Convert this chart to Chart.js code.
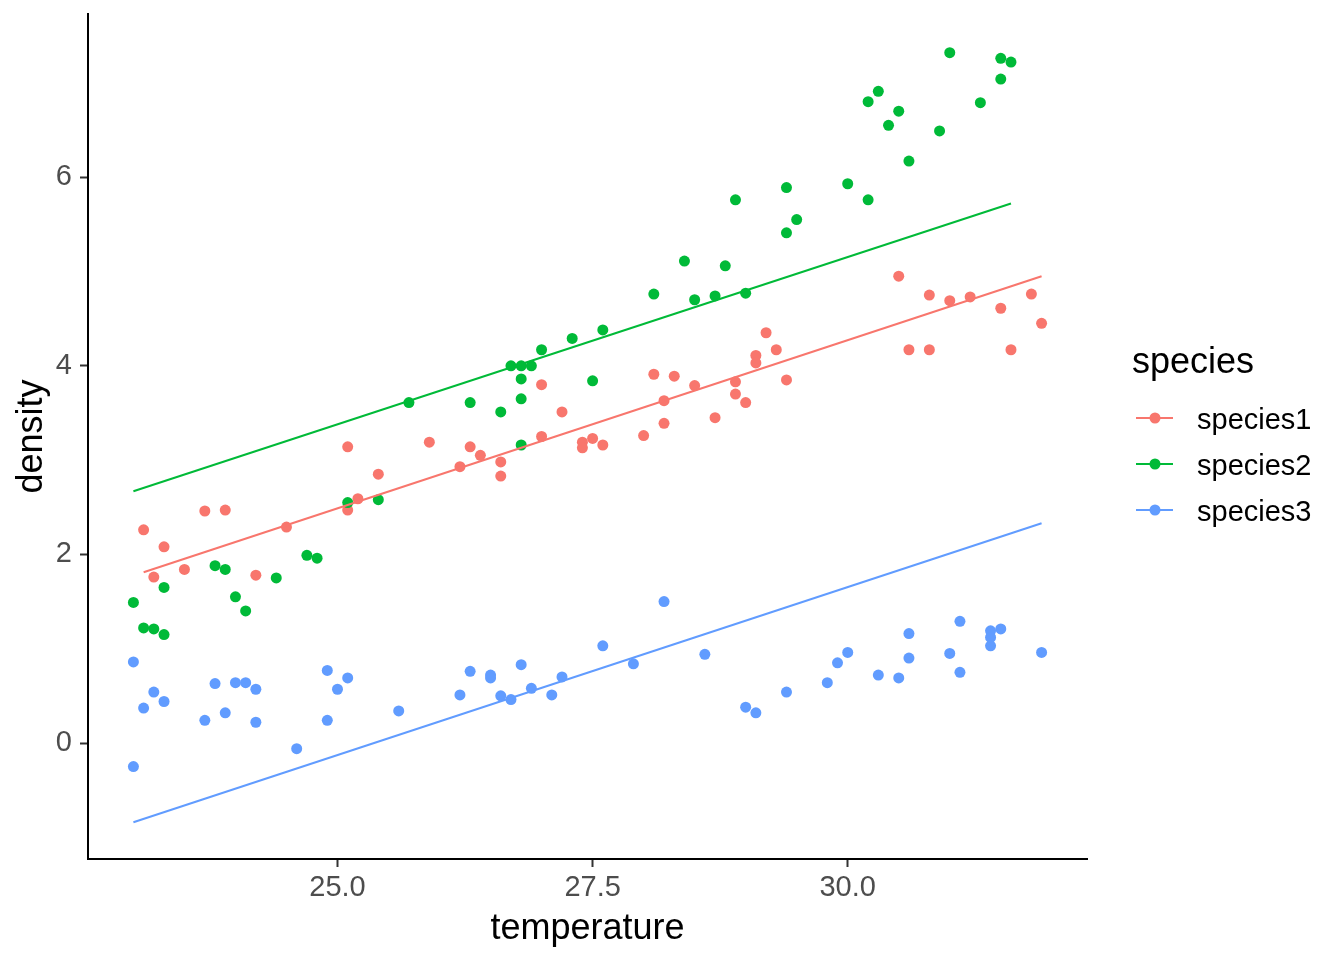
<!DOCTYPE html>
<html>
<head>
<meta charset="utf-8">
<script src="https://cdn.jsdelivr.net/npm/chart.js@4.4.1/dist/chart.umd.min.js"></script>
<style>
  html, body { margin: 0; padding: 0; background: #fff; }
  #wrap { width: 1344px; height: 960px; }
</style>
</head>
<body>
<div id="wrap"><canvas id="densityChart" width="1344" height="960"></canvas></div>
<script>
// Observed points per species (temperature, density)
const temp1 = [23.1, 23.2, 23.3, 23.5, 23.7, 23.9, 24.2, 24.5, 25.1, 25.1,
               25.2, 25.4, 25.9, 26.2, 26.3, 26.4, 26.6, 26.6, 27.0, 27.0,
               27.2, 27.4, 27.4, 27.5, 27.6, 28.0, 28.1, 28.2, 28.2, 28.3,
               28.5, 28.7, 28.9, 28.9, 29.0, 29.1, 29.1, 29.2, 29.3, 29.4,
               30.5, 30.6, 30.8, 30.8, 31.0, 31.2, 31.5, 31.6, 31.8, 31.9];
const dens1 = [2.26, 1.76, 2.08, 1.84, 2.46, 2.47, 1.78, 2.29, 2.47, 3.14,
               2.59, 2.85, 3.19, 2.93, 3.14, 3.05, 2.98, 2.83, 3.80, 3.25,
               3.51, 3.19, 3.13, 3.23, 3.16, 3.26, 3.91, 3.63, 3.39, 3.89,
               3.79, 3.45, 3.83, 3.70, 3.61, 4.11, 4.03, 4.35, 4.17, 3.85,
               4.95, 4.17, 4.75, 4.17, 4.69, 4.73, 4.61, 4.17, 4.76, 4.45];

const temp2 = [23.0, 23.1, 23.2, 23.3, 23.3, 23.8, 23.9, 24.0, 24.1, 24.4,
               24.7, 24.8, 25.1, 25.4, 25.7, 26.3, 26.6, 26.7, 26.8, 26.9,
               26.8, 26.8, 26.8, 27.0, 27.3, 27.5, 27.6, 28.1, 28.4, 28.5,
               28.7, 28.8, 28.9, 29.0, 29.4, 29.4, 29.5, 30.0, 30.2, 30.2,
               30.3, 30.4, 30.5, 30.6, 30.9, 31.0, 31.3, 31.5, 31.5, 31.6];
const dens2 = [1.49, 1.22, 1.21, 1.15, 1.65, 1.88, 1.84, 1.55, 1.40, 1.75,
               1.99, 1.96, 2.55, 2.58, 3.61, 3.61, 3.51, 4.00, 4.00, 4.00,
               3.86, 3.65, 3.16, 4.17, 4.29, 3.84, 4.38, 4.76, 5.11, 4.70,
               4.74, 5.06, 5.76, 4.77, 5.89, 5.41, 5.55, 5.93, 5.76, 6.80,
               6.91, 6.55, 6.70, 6.17, 6.49, 7.32, 6.79, 7.26, 7.04, 7.22];

const temp3 = [23.0, 23.0, 23.1, 23.2, 23.3, 23.7, 23.8, 23.9, 24.0, 24.1,
               24.2, 24.2, 24.6, 24.9, 24.9, 25.0, 25.1, 25.6, 26.2, 26.3,
               26.5, 26.5, 26.6, 26.7, 26.8, 26.9, 27.1, 27.2, 27.6, 27.9,
               28.2, 28.6, 29.0, 29.1, 29.4, 29.8, 29.9, 30.0, 30.3, 30.5,
               30.6, 30.6, 31.0, 31.1, 31.1, 31.4, 31.4, 31.4, 31.5, 31.9];
const dens3 = [0.86, -0.25, 0.37, 0.54, 0.44, 0.24, 0.63, 0.32, 0.64, 0.64,
               0.57, 0.22, -0.06, 0.77, 0.24, 0.57, 0.69, 0.34, 0.51, 0.76,
               0.72, 0.69, 0.50, 0.46, 0.83, 0.58, 0.51, 0.70, 1.03, 0.84,
               1.50, 0.94, 0.38, 0.32, 0.54, 0.64, 0.85, 0.96, 0.72, 0.69,
               1.16, 0.90, 0.95, 1.29, 0.75, 1.19, 1.12, 1.03, 1.21, 0.96];

// Fitted lines (end points of each prediction)
const fitTemp1 = [23.1, 31.9];
const fitDens1 = [1.81, 4.95];
const fitTemp2 = [23.0, 31.6];
const fitDens2 = [2.67, 5.72];
const fitTemp3 = [23.0, 31.9];
const fitDens3 = [-0.84, 2.33];

const speciesNames = ['species1', 'species2', 'species3'];
const speciesColors = ['#F8766D', '#00BA38', '#619CFF'];
const xTicks = [25.0, 27.5, 30.0];
const yTicks = [0, 2, 4, 6];

const toXY = (xs, ys) => xs.map((x, i) => ({ x: x, y: ys[i] }));
const pointSet = (xs, ys, i, order) => ({
    label: speciesNames[i],
    data: toXY(xs, ys),
    backgroundColor: speciesColors[i],
    borderColor: speciesColors[i],
    pointRadius: 5.5,
    pointBorderWidth: 0,
    showLine: false,
    order: order
});
const lineSet = (xs, ys, i) => ({
    label: speciesNames[i] + ' fit',
    data: toXY(xs, ys),
    borderColor: speciesColors[i],
    borderWidth: 2,
    pointRadius: 0,
    showLine: true,
    fill: false,
    order: 0
});

const FONT = '"Liberation Sans", Arial, sans-serif';

// ggplot-style legend on the right
const legendPlugin = {
    id: 'ggLegend',
    afterDraw(chart) {
        const c = chart.ctx;
        c.save();
        c.fillStyle = '#000';
        c.font = '36px ' + FONT;
        c.textAlign = 'left';
        c.textBaseline = 'alphabetic';
        c.fillText('species', 1132, 373);
        speciesNames.forEach((name, i) => {
            const y = 418 + i * 46;
            c.strokeStyle = speciesColors[i];
            c.lineWidth = 2;
            c.beginPath();
            c.moveTo(1136, y);
            c.lineTo(1173, y);
            c.stroke();
            c.fillStyle = speciesColors[i];
            c.beginPath();
            c.arc(1155, y, 5.5, 0, Math.PI * 2);
            c.fill();
            c.fillStyle = '#000';
            c.font = '29px ' + FONT;
            c.fillText(name, 1197, y + 11);
        });
        c.restore();
    }
};

const ctx = document.getElementById('densityChart').getContext('2d');
new Chart(ctx, {
    type: 'scatter',
    data: {
        datasets: [
            pointSet(temp3, dens3, 2, 1),
            pointSet(temp2, dens2, 1, 2),
            pointSet(temp1, dens1, 0, 3),
            lineSet(fitTemp3, fitDens3, 2),
            lineSet(fitTemp2, fitDens2, 1),
            lineSet(fitTemp1, fitDens1, 0)
        ]
    },
    options: {
        responsive: false,
        animation: false,
        devicePixelRatio: 1,
        layout: { padding: { top: 14, right: 257, left: 0, bottom: 0 } },
        plugins: {
            legend: { display: false },
            tooltip: { enabled: false }
        },
        scales: {
            x: {
                type: 'linear',
                min: 22.555,
                max: 32.345,
                afterBuildTicks: (scale) => { scale.ticks = xTicks.map(v => ({ value: v })); },
                afterFit: (scale) => {
                    scale.height = 101;
                    scale.paddingLeft = 0;
                    scale.paddingRight = 0;
                },
                ticks: {
                    color: '#4D4D4D',
                    font: { family: FONT, size: 29 },
                    padding: 4,
                    maxRotation: 0,
                    callback: (v) => Number(v).toFixed(1)
                },
                grid: { drawOnChartArea: false, tickLength: 8, tickWidth: 2, tickColor: '#333333' },
                border: { display: true, color: '#000', width: 2 },
                title: {
                    display: true,
                    text: 'temperature',
                    color: '#000',
                    font: { family: FONT, size: 36 },
                    padding: { top: 0, bottom: 9 }
                }
            },
            y: {
                type: 'linear',
                min: -1.23,
                max: 7.73,
                afterBuildTicks: (scale) => { scale.ticks = yTicks.map(v => ({ value: v })); },
                afterFit: (scale) => {
                    scale.width = 88;
                    scale.paddingTop = 0;
                    scale.paddingBottom = 0;
                },
                ticks: {
                    color: '#4D4D4D',
                    font: { family: FONT, size: 29 },
                    padding: 8
                },
                grid: { drawOnChartArea: false, tickLength: 8, tickWidth: 2, tickColor: '#333333' },
                border: { display: true, color: '#000', width: 2 },
                title: {
                    display: true,
                    text: 'density',
                    color: '#000',
                    font: { family: FONT, size: 36 },
                    padding: { top: 10, bottom: 0 }
                }
            }
        }
    },
    plugins: [legendPlugin]
});
</script>
</body>
</html>
